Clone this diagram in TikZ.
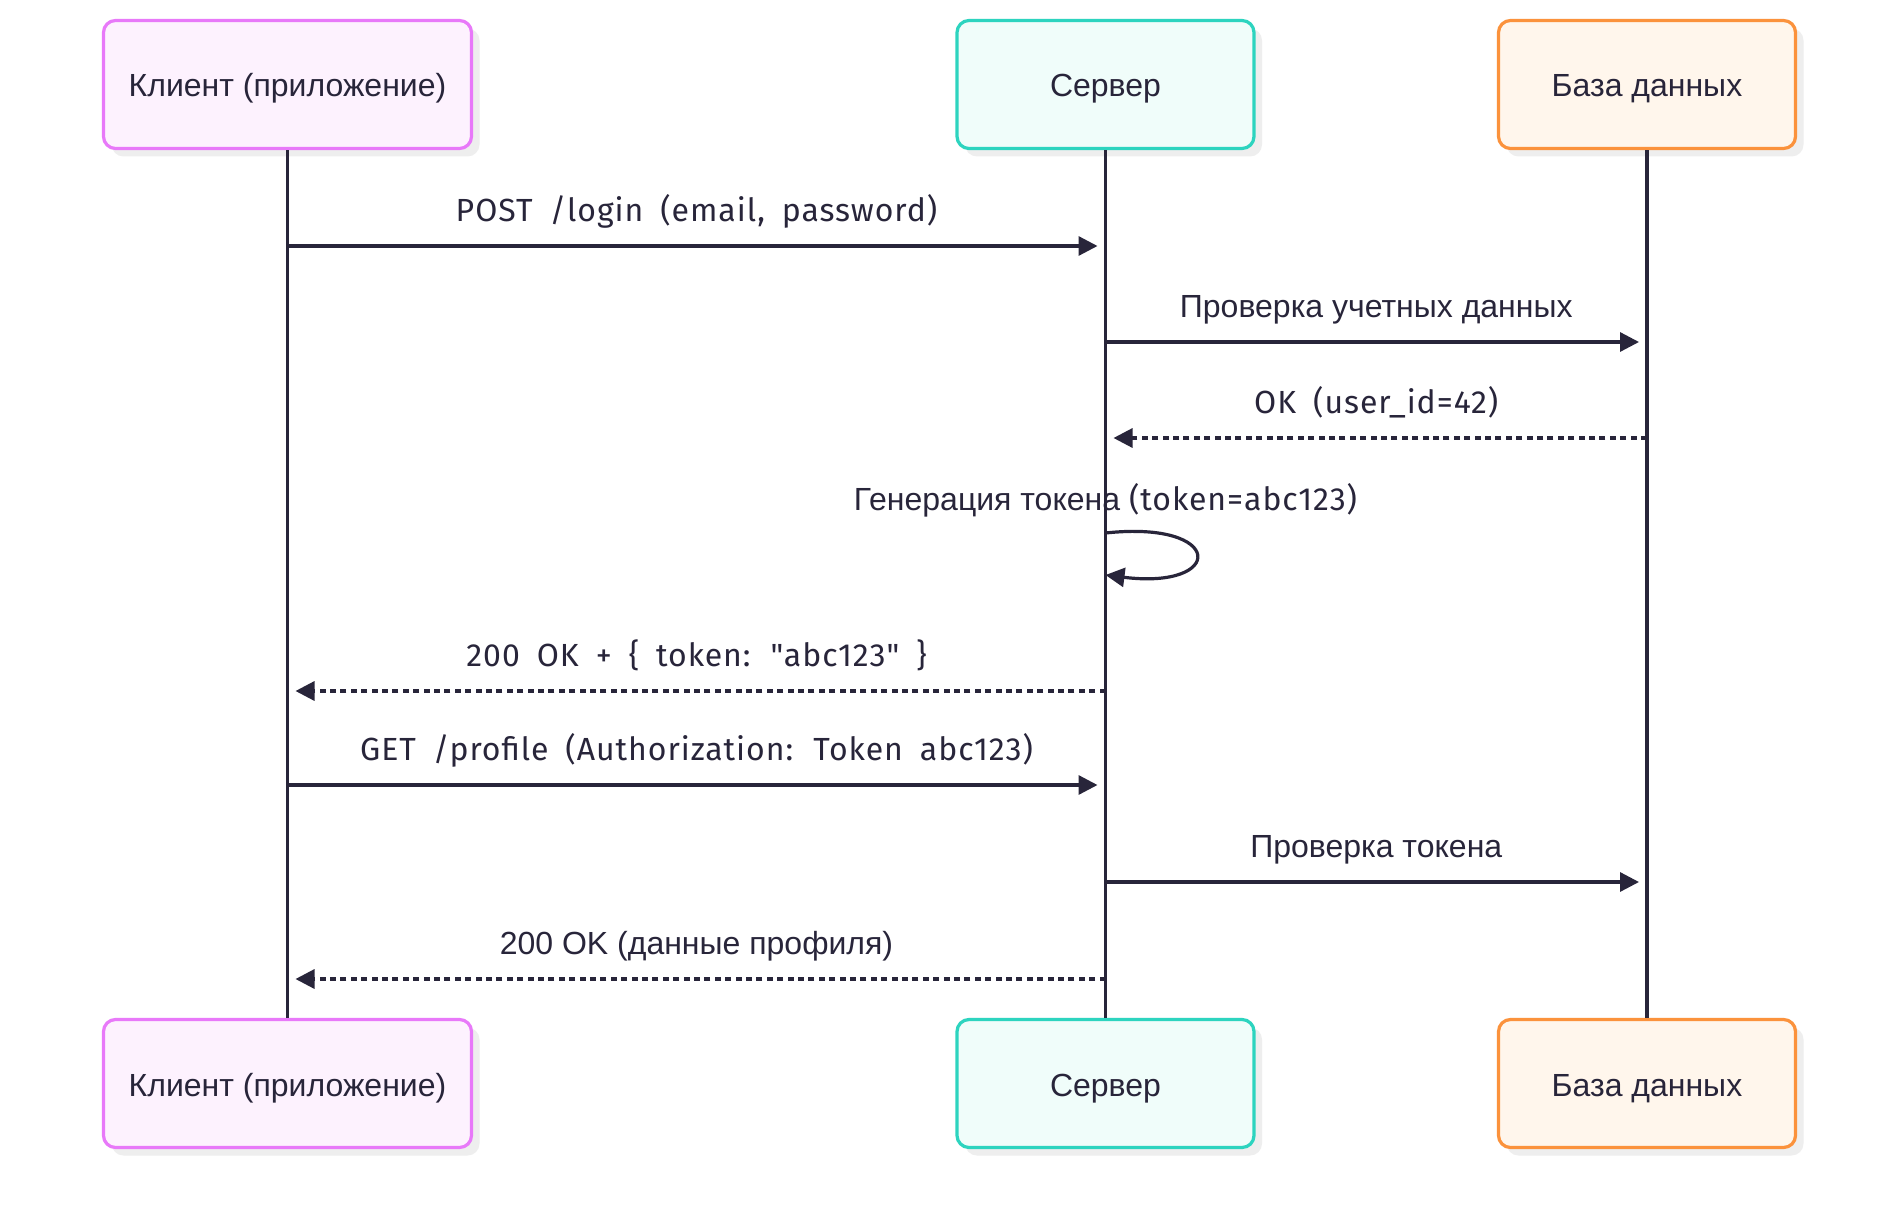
\documentclass[tikz,border=0pt]{standalone}
\usepackage{fontspec}
\setmainfont{Liberation Sans}
\newfontfamily\latfont[LetterSpace=3, WordSpace=1.8]{Fira Sans}
\usepackage{tikz}
\usetikzlibrary{calc}
\usetikzlibrary{arrows.meta}
\usetikzlibrary{shadows}
\definecolor{ink}{HTML}{28253A}
\definecolor{shadowgray}{HTML}{EEEEEE}
\definecolor{cliline}{HTML}{E879F9}
\definecolor{clifill}{HTML}{FDF2FE}
\definecolor{srvline}{HTML}{2DD4BF}
\definecolor{srvfill}{HTML}{F0FDFA}
\definecolor{dbline}{HTML}{FB923C}
\definecolor{dbfill}{HTML}{FFF6EC}
\newcommand{\lat}[1]{{\latfont #1}}
% name, from, to, y, style, label
\newcommand{\msg}[6]{\draw[#5] (#2 |- 0,#4) -- (#3 |- 0,#4); \node[lbl] (#1) at ($(#2 |- 0,#4)!.5!(#3 |- 0,#4)+(0,-25)$) {#6};}

\begin{document}
\begin{tikzpicture}[x=0.5pt, y=-0.5pt,
    every node/.style={text=ink, font=\fontsize{16}{19}\selectfont},
    actor/.style={draw, rounded corners=6pt, line width=1.6pt, minimum height=64pt, inner sep=0pt,
        text height=12.5pt, text depth=0pt,
        drop shadow={shadow xshift=4pt, shadow yshift=-4pt, fill=shadowgray, opacity=1}},
    cli/.style={actor, draw=cliline, fill=clifill, minimum width=184pt},
    srv/.style={actor, draw=srvline, fill=srvfill, minimum width=148.5pt},
    db/.style={actor, draw=dbline, fill=dbfill, minimum width=148.5pt},
    life/.style={draw=ink, line width=1.6pt},
    lbl/.style={anchor=base},
    msg/.style={draw=ink, line width=1.6pt, -{Triangle[length=9.5pt, width=9.5pt]}, shorten >=4pt},
    reply/.style={msg, dash pattern=on 3pt off 2.2pt}]
    \fill[white] (0,0) rectangle (1898,1230);
    \useasboundingbox (0,0) rectangle (1898,1230);

    \node[cli] (cliTop) at (287.5,84.5) {Клиент (приложение)};
    \node[srv] (srvTop) at (1105.5,84.5) {Сервер};
    \node[db] (dbTop) at (1647,84.5) {База данных};
    \node[cli] (cliBot) at (287.5,1083.5) {Клиент (приложение)};
    \node[srv] (srvBot) at (1105.5,1083.5) {Сервер};
    \node[db] (dbBot) at (1647,1083.5) {База данных};

    \draw[life] (cliTop) -- (cliBot);
    \draw[life] (srvTop) -- (srvBot);
    \draw[life] (dbTop) -- (dbBot);

    \msg{login}{cliTop}{srvTop}{246}{msg}{\lat{POST /login (email, password)}}
    \msg{check}{srvTop}{dbTop}{342}{msg}{Проверка учетных данных}
    \msg{userok}{dbTop}{srvTop}{438}{reply}{\lat{OK (user\_id=42)}}

    \node[lbl] (gen) at (srvTop |- 0,510) {Генерация токена \lat{(token=abc123)}};
    \draw[msg, shorten >=0pt] (srvTop |- 0,533) .. controls +(120,-13) and +(120,15) .. (srvTop |- 0,575);

    \msg{tokok}{srvTop}{cliTop}{691}{reply}{\lat{200 OK + \{ token: "abc123" \}}}
    \msg{profile}{cliTop}{srvTop}{785}{msg}{\lat{GET /profile (Authorization: Token abc123)}}
    \msg{tokcheck}{srvTop}{dbTop}{882}{msg}{Проверка токена}
    \msg{profok}{srvTop}{cliTop}{979}{reply}{200 OK (данные профиля)}
\end{tikzpicture}
\end{document}
